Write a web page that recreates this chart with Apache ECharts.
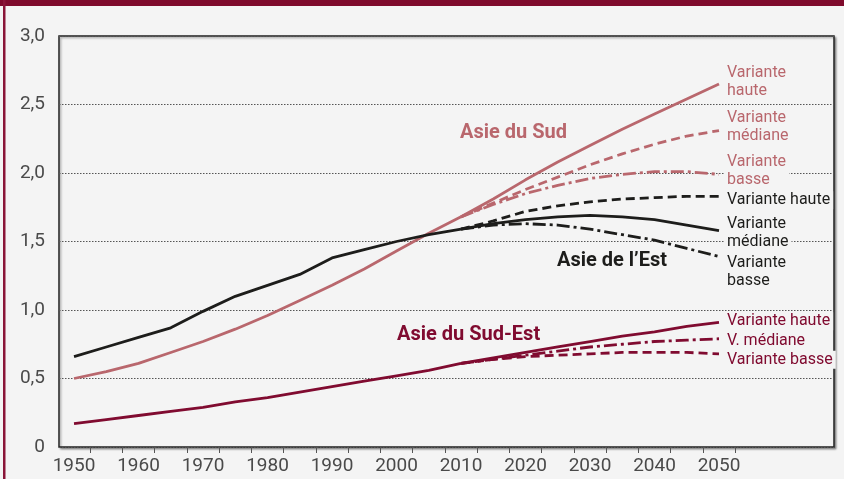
<!DOCTYPE html>
<html lang="fr">
<head>
  <meta charset="UTF-8">
  <title>Asie – variantes de projection</title>
  <script src="https://cdn.jsdelivr.net/npm/echarts@6.0.0/dist/echarts.min.js"></script>
  <style>
    html, body { margin: 0; padding: 0; width: 100%; height: 100%; background: #f4f4f4; }
    #chart { width: 844px; height: 479px; }
  </style>
</head>
<body>
  <div id="chart"></div>
  <script>
    // --- données ---
    const histYears = [1950, 1955, 1960, 1965, 1970, 1975, 1980, 1985, 1990, 1995, 2000, 2005, 2010];
    const projYears = [2010, 2015, 2020, 2025, 2030, 2035, 2040, 2045, 2050];

    const sudHist = [0.50, 0.55, 0.61, 0.69, 0.77, 0.86, 0.96, 1.07, 1.18, 1.30, 1.43, 1.56, 1.68];
    const sudHaute = [1.68, 1.81, 1.95, 2.08, 2.20, 2.32, 2.43, 2.54, 2.65];
    const sudMediane = [1.68, 1.78, 1.88, 1.97, 2.06, 2.14, 2.21, 2.27, 2.31];
    const sudBasse = [1.68, 1.77, 1.85, 1.91, 1.96, 1.99, 2.01, 2.01, 1.99];

    const estHist = [0.66, 0.73, 0.80, 0.87, 0.99, 1.10, 1.18, 1.26, 1.38, 1.44, 1.50, 1.55, 1.59];
    const estHaute = [1.59, 1.65, 1.72, 1.76, 1.79, 1.81, 1.82, 1.83, 1.83];
    const estMediane = [1.59, 1.63, 1.66, 1.68, 1.69, 1.68, 1.66, 1.62, 1.58];
    const estBasse = [1.59, 1.62, 1.63, 1.62, 1.59, 1.55, 1.51, 1.45, 1.39];

    const seHist = [0.17, 0.20, 0.23, 0.26, 0.29, 0.33, 0.36, 0.40, 0.44, 0.48, 0.52, 0.56, 0.61];
    const seHaute = [0.61, 0.65, 0.69, 0.73, 0.77, 0.81, 0.84, 0.88, 0.91];
    const seMediane = [0.61, 0.64, 0.67, 0.70, 0.73, 0.75, 0.77, 0.78, 0.79];
    const seBasse = [0.61, 0.64, 0.66, 0.67, 0.68, 0.69, 0.69, 0.69, 0.68];

    const xLabelYears = [1950, 1960, 1970, 1980, 1990, 2000, 2010, 2020, 2030, 2040, 2050];
    const xTickYears = [1952.5, 1957.5, 1962.5, 1967.5, 1972.5, 1977.5, 1982.5, 1987.5, 1992.5, 1997.5,
      2002.5, 2007.5, 2012.5, 2017.5, 2022.5, 2027.5, 2032.5, 2037.5, 2042.5, 2047.5, 2052.5];

    const FONT = 'Roboto, "Noto Sans", sans-serif';
    const C_SUD = '#b9676d';
    const C_EST = '#1d1d1b';
    const C_SE = '#800b30';
    const DASH = [9, 5];
    const DASHDOT = [13, 4, 3, 4];

    const pairs = (years, vals) => years.map((y, i) => [y, vals[i]]);

    function mkLine(years, vals, color, type, label, dy) {
      const s = {
        type: 'line',
        data: pairs(years, vals),
        showSymbol: false,
        smooth: false,
        silent: true,
        lineStyle: { color: color, width: 2.8, type: type, cap: 'butt', join: 'round' },
        z: 3
      };
      if (label) {
        s.endLabel = {
          show: true,
          formatter: label,
          color: color,
          fontFamily: FONT,
          fontSize: 16,
          lineHeight: 18,
          distance: 5,
          offset: [0, dy],
          backgroundColor: '#f4f4f4',
          padding: [0, 3]
        };
      }
      return s;
    }

    const chart = echarts.init(document.getElementById('chart'), null, { renderer: 'canvas' });

    const option = {
      animation: false,
      backgroundColor: '#f4f4f4',
      grid: {
        left: 59, top: 36, right: 10, bottom: 32,
        show: true,
        backgroundColor: '#f4f4f4',
        borderColor: '#222',
        borderWidth: 1.5,
        shadowColor: 'rgba(0,0,0,0.35)',
        shadowBlur: 2,
        shadowOffsetX: 1.5,
        shadowOffsetY: 1.5
      },
      xAxis: {
        type: 'value',
        min: 1947.67,
        max: 2067.83,
        axisLine: { show: false },
        splitLine: { show: false },
        axisTick: {
          show: true, length: 6, customValues: xTickYears,
          lineStyle: { color: '#555', width: 1 }
        },
        axisLabel: {
          customValues: xLabelYears,
          formatter: v => String(v),
          color: '#4a4a4a', fontFamily: FONT, fontSize: 19, margin: 10
        }
      },
      yAxis: {
        type: 'value',
        min: 0, max: 3, interval: 0.5,
        axisLine: { show: false },
        axisTick: { show: false },
        splitLine: { show: true, lineStyle: { color: '#555', width: 1, type: [1.5, 1.5] } },
        axisLabel: {
          color: '#4a4a4a', fontFamily: FONT, fontSize: 19, margin: 14,
          formatter: v => v === 0 ? '0' : v.toFixed(1).replace('.', ',')
        }
      },
      series: [
        mkLine(histYears, sudHist, C_SUD, 'solid', null, 0),
        mkLine(projYears, sudHaute, C_SUD, 'solid', 'Variante\nhaute', -2),
        mkLine(projYears, sudMediane, C_SUD, DASH, 'Variante\nmédiane', -4),
        mkLine(projYears, sudBasse, C_SUD, DASHDOT, 'Variante\nbasse', -3),

        mkLine(histYears, estHist, C_EST, 'solid', null, 0),
        mkLine(projYears, estHaute, C_EST, DASH, 'Variante haute', 4),
        mkLine(projYears, estMediane, C_EST, 'solid', 'Variante\nmédiane', 2),
        mkLine(projYears, estBasse, C_EST, DASHDOT, 'Variante\nbasse', 15),

        mkLine(histYears, seHist, C_SE, 'solid', null, 0),
        mkLine(projYears, seHaute, C_SE, 'solid', 'Variante haute', -1),
        mkLine(projYears, seMediane, C_SE, DASHDOT, 'V. médiane', 2),
        mkLine(projYears, seBasse, C_SE, DASH, 'Variante basse', 6)
      ],
      graphic: [
        { type: 'rect', left: 0, top: 0, shape: { width: 844, height: 6 }, style: { fill: '#7f0a2c' }, z: 10 },
        { type: 'rect', left: 3, top: 0, shape: { width: 2.5, height: 479 }, style: { fill: '#8a1538' }, z: 10 },
        {
          type: 'text', left: 460, top: 123, z: 10,
          style: { text: 'Asie du Sud', fill: C_SUD, font: 'bold 20px ' + FONT }
        },
        {
          type: 'text', left: 557, top: 251, z: 10,
          style: { text: 'Asie de l’Est', fill: C_EST, font: 'bold 20px ' + FONT }
        },
        {
          type: 'text', left: 397, top: 325, z: 10,
          style: { text: 'Asie du Sud-Est', fill: C_SE, font: 'bold 20px ' + FONT }
        }
      ]
    };

    chart.setOption(option);
  </script>
</body>
</html>
